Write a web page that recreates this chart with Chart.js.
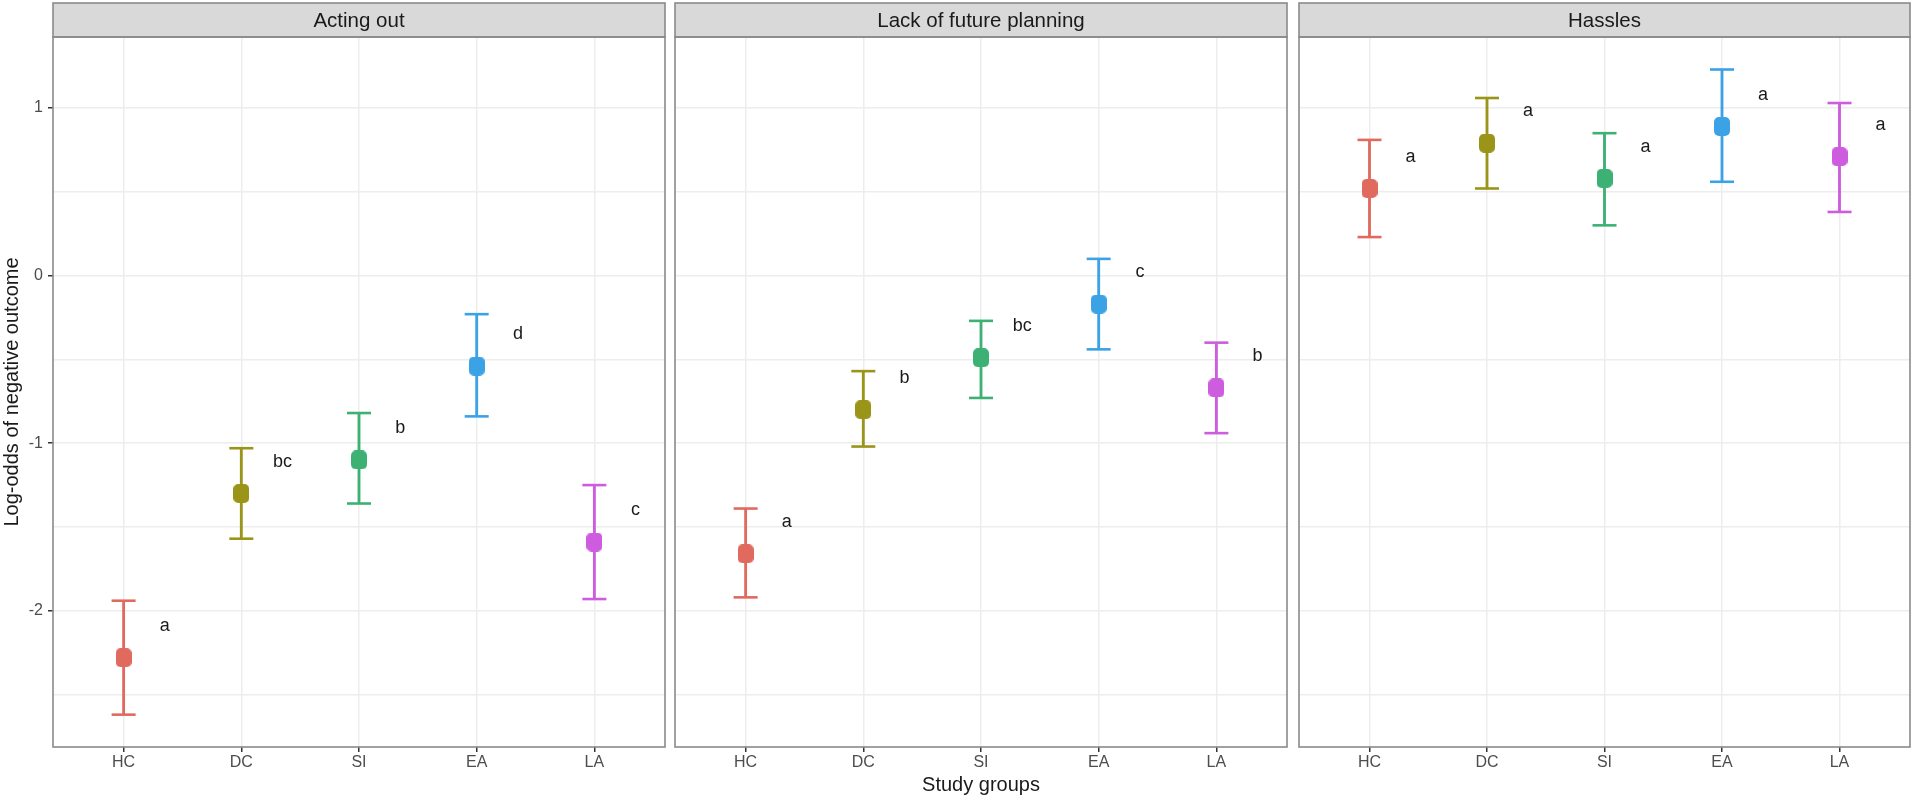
<!DOCTYPE html>
<html>
<head>
<meta charset="utf-8">
<script src="https://cdn.jsdelivr.net/npm/chart.js@4.4.0/dist/chart.umd.min.js"></script>
<style>
  html, body { margin: 0; padding: 0; background: #fff; width: 1920px; height: 801px; overflow: hidden; }
  .facet { position: absolute; top: 0; height: 801px; }
</style>
</head>
<body>
<div class="facet" style="left:0;width:668px"><canvas id="actingChart"></canvas></div>
<div class="facet" style="left:672px;width:618px"><canvas id="planChart"></canvas></div>
<div class="facet" style="left:1296px;width:617px"><canvas id="hasslesChart"></canvas></div>
<script>
// groups and facet names
const groups = ['HC', 'DC', 'SI', 'EA', 'LA'];
const facets = ['Acting out', 'Lack of future planning', 'Hassles'];
const groupColors = ['#E16A5E', '#9A9419', '#3DB174', '#3BA2E6', '#CD5CDE'];
const yTicks = [-2, -1, 0, 1];

// Acting out
const actingEst = [-2.28, -1.30, -1.10, -0.54, -1.59];
const actingLow = [-2.62, -1.57, -1.36, -0.84, -1.93];
const actingUp = [-1.94, -1.03, -0.82, -0.23, -1.25];
const actingLetters = ['a', 'bc', 'b', 'd', 'c'];

// Lack of future planning
const planEst = [-1.66, -0.80, -0.49, -0.17, -0.67];
const planLow = [-1.92, -1.02, -0.73, -0.44, -0.94];
const planUp = [-1.39, -0.57, -0.27, 0.10, -0.40];
const planLetters = ['a', 'b', 'bc', 'c', 'b'];

// Hassles
const hassEst = [0.52, 0.79, 0.58, 0.89, 0.71];
const hassLow = [0.23, 0.52, 0.30, 0.56, 0.38];
const hassUp = [0.81, 1.06, 0.85, 1.23, 1.03];
const hassLetters = ['a', 'a', 'a', 'a', 'a'];

const FONT = "'Liberation Sans', Arial, sans-serif";

// rounded square markers, one per colour
const markers = groupColors.map(c => {
    const cv = document.createElement('canvas');
    cv.width = 16; cv.height = 19;
    const g = cv.getContext('2d');
    g.fillStyle = c;
    g.beginPath();
    g.roundRect(0, 0, 16, 19, 5);
    g.fill();
    return cv;
});

// strip on top + panel border
const facetFrame = {
    id: 'facetFrame',
    afterDraw(chart, args, opts) {
        const { ctx, chartArea: a } = chart;
        ctx.save();
        ctx.fillStyle = '#D9D9D9';
        ctx.fillRect(a.left, 3, a.right - a.left, a.top - 3);
        ctx.strokeStyle = '#8A8A8A';
        ctx.lineWidth = 1.6;
        ctx.strokeRect(a.left, 3, a.right - a.left, a.top - 3);
        ctx.strokeRect(a.left, a.top, a.right - a.left, a.bottom - a.top);
        ctx.fillStyle = '#1A1A1A';
        ctx.font = '20.5px ' + FONT;
        ctx.textAlign = 'center';
        ctx.textBaseline = 'middle';
        ctx.fillText(opts.title, (a.left + a.right) / 2, (a.top + 3) / 2 + 1);
        ctx.restore();
    }
};

// significance letters next to each estimate
const groupLetters = {
    id: 'groupLetters',
    afterDatasetsDraw(chart, args, opts) {
        const { ctx, scales: { x, y } } = chart;
        ctx.save();
        ctx.fillStyle = '#1A1A1A';
        ctx.font = '18px ' + FONT;
        ctx.textAlign = 'center';
        ctx.textBaseline = 'middle';
        opts.letters.forEach((l, i) => {
            ctx.fillText(l, x.getPixelForValue(i + 0.35), y.getPixelForValue(opts.est[i] + 0.19));
        });
        ctx.restore();
    }
};

function makeChart(canvasId, title, est, low, up, letters, showY, showXTitle) {
    const ctx = document.getElementById(canvasId).getContext('2d');
    return new Chart(ctx, {
        type: 'scatter',
        data: {
            datasets: [
                {
                    type: 'bar',
                    data: groups.map((g, i) => ({ x: i, y: [low[i], up[i]] })),
                    backgroundColor: groupColors,
                    barThickness: 2.2,
                    order: 3
                },
                {
                    data: groups.map((g, i) => ({ x: i, y: up[i] })),
                    pointStyle: 'line',
                    radius: 12,
                    borderWidth: 2.6,
                    borderColor: groupColors,
                    order: 2
                },
                {
                    data: groups.map((g, i) => ({ x: i, y: low[i] })),
                    pointStyle: 'line',
                    radius: 12,
                    borderWidth: 2.6,
                    borderColor: groupColors,
                    order: 2
                },
                {
                    data: groups.map((g, i) => ({ x: i, y: est[i] })),
                    pointStyle: c => markers[c.dataIndex],
                    radius: 9,
                    order: 1
                }
            ]
        },
        options: {
            responsive: true,
            maintainAspectRatio: false,
            animation: false,
            events: [],
            layout: { autoPadding: false, padding: { top: 37, left: showY ? 0 : 3, right: 3, bottom: 0 } },
            plugins: {
                legend: { display: false },
                tooltip: { enabled: false },
                facetFrame: { title: title },
                groupLetters: { letters: letters, est: est }
            },
            scales: {
                x: {
                    type: 'linear',
                    min: -0.6,
                    max: 4.6,
                    offset: false,
                    border: { display: false },
                    grid: { color: '#EDEDED', lineWidth: 1.5, tickColor: '#333', tickLength: 5, offset: false },
                    ticks: {
                        stepSize: 1,
                        includeBounds: false,
                        maxRotation: 0,
                        autoSkip: false,
                        padding: 1,
                        color: '#4D4D4D',
                        font: { family: FONT, size: 16 },
                        callback: v => groups[v] ?? ''
                    },
                    title: {
                        display: true,
                        text: showXTitle ? 'Study groups' : ' ',
                        color: '#1A1A1A',
                        font: { family: FONT, size: 20 },
                        padding: { top: 0, bottom: 4 }
                    },
                    afterFit: s => { s.height = 54; }
                },
                y: {
                    min: -2.813,
                    max: 1.424,
                    border: { display: false },
                    grid: {
                        color: '#EDEDED',
                        lineWidth: 1.5,
                        drawTicks: showY,
                        tickLength: 5,
                        tickColor: c => yTicks.includes(c.tick.value) ? '#333' : 'rgba(0,0,0,0)'
                    },
                    ticks: {
                        display: showY,
                        stepSize: 0.5,
                        includeBounds: false,
                        padding: 5,
                        color: '#4D4D4D',
                        font: { family: FONT, size: 16 },
                        callback: v => yTicks.includes(v) ? String(v) : ''
                    },
                    title: {
                        display: showY,
                        text: 'Log-odds of negative outcome',
                        color: '#1A1A1A',
                        font: { family: FONT, size: 20 },
                        padding: { top: 0, bottom: 0 }
                    },
                    afterFit: s => { s.width = showY ? 53 : 0; }
                }
            }
        },
        plugins: [facetFrame, groupLetters]
    });
}

makeChart('actingChart', facets[0], actingEst, actingLow, actingUp, actingLetters, true, false);
makeChart('planChart', facets[1], planEst, planLow, planUp, planLetters, false, true);
makeChart('hasslesChart', facets[2], hassEst, hassLow, hassUp, hassLetters, false, false);
</script>
</body>
</html>
